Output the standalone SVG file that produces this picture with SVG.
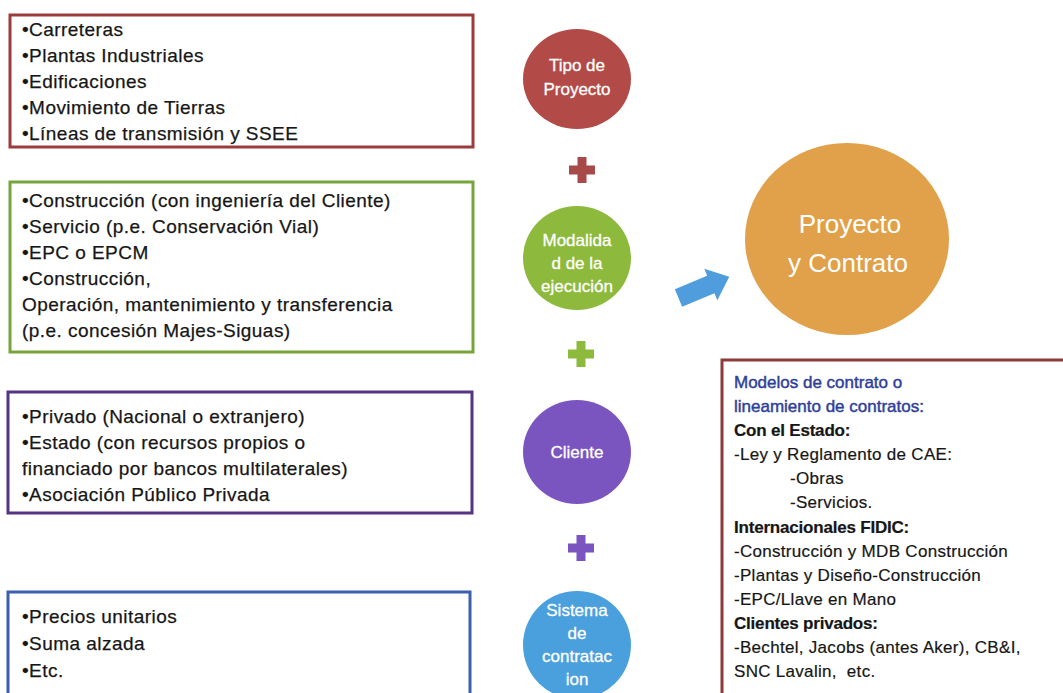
<svg xmlns="http://www.w3.org/2000/svg" width="1063" height="693" viewBox="0 0 1063 693">
  <style>
    .box { fill: #ffffff; stroke-width: 3; }
    .item { font-family: "Liberation Sans", Arial, sans-serif; font-size: 19px; letter-spacing: 0.45px; fill: #161616; stroke: #161616; stroke-width: 0.25; }
    .ctext { font-family: "Liberation Sans", Arial, sans-serif; font-size: 17px; fill: #ffffff; stroke: #ffffff; stroke-width: 0.3; text-anchor: middle; }
    .big { font-family: "Liberation Sans", Arial, sans-serif; font-size: 26px; fill: #ffffff; text-anchor: middle; }
    .model { font-family: "Liberation Sans", Arial, sans-serif; font-size: 17px; letter-spacing: 0.3px; fill: #161616; stroke: #161616; stroke-width: 0.2; }
    .head { fill: #2f3f9a; stroke: #2f3f9a; stroke-width: 0.45; letter-spacing: 0; }
    .bold { font-weight: bold; letter-spacing: -0.2px; }
  </style>
  <defs>
    <path id="plus" d="M-4.5,-13 H4.5 V-4.5 H13 V4.5 H4.5 V13 H-4.5 V4.5 H-13 V-4.5 H-4.5 Z"/>
  </defs>
  <rect width="1063" height="693" fill="#ffffff"/>

  <!-- left list boxes -->
  <g id="box-tipo">
    <rect class="box" x="10" y="15" width="463" height="132" stroke="#9c3b3b"/>
    <text class="item">
      <tspan x="22" y="36">•Carreteras</tspan>
      <tspan x="22" y="62">•Plantas Industriales</tspan>
      <tspan x="22" y="88">•Edificaciones</tspan>
      <tspan x="22" y="114">•Movimiento de Tierras</tspan>
      <tspan x="22" y="140">•Líneas de transmisión y SSEE</tspan>
    </text>
  </g>
  <g id="box-modalidad">
    <rect class="box" x="10" y="182" width="463" height="170" stroke="#78a53b"/>
    <text class="item">
      <tspan x="22" y="207">•Construcción (con ingeniería del Cliente)</tspan>
      <tspan x="22" y="233">•Servicio (p.e. Conservación Vial)</tspan>
      <tspan x="22" y="259">•EPC o EPCM</tspan>
      <tspan x="22" y="285">•Construcción,</tspan>
      <tspan x="22" y="311">Operación, mantenimiento y transferencia</tspan>
      <tspan x="22" y="337">(p.e. concesión Majes-Siguas)</tspan>
    </text>
  </g>
  <g id="box-cliente">
    <rect class="box" x="8" y="392" width="464" height="121" stroke="#553385"/>
    <text class="item">
      <tspan x="22" y="423">•Privado (Nacional o extranjero)</tspan>
      <tspan x="22" y="449">•Estado (con recursos propios o</tspan>
      <tspan x="22" y="475">financiado por bancos multilaterales)</tspan>
      <tspan x="22" y="501">•Asociación Público Privada</tspan>
    </text>
  </g>
  <g id="box-sistema">
    <rect class="box" x="8" y="592" width="462" height="120" stroke="#3d5fae"/>
    <text class="item">
      <tspan x="22" y="623">•Precios unitarios</tspan>
      <tspan x="22" y="650">•Suma alzada</tspan>
      <tspan x="22" y="677">•Etc.</tspan>
    </text>
  </g>

  <!-- central circles -->
  <g id="tipo">
    <ellipse cx="577" cy="79" rx="54" ry="50" fill="#b24b47"/>
    <text class="ctext"><tspan x="577" y="71">Tipo de</tspan><tspan x="577" y="95">Proyecto</tspan></text>
  </g>
  <g id="modalidad">
    <ellipse cx="577" cy="258" rx="54" ry="52" fill="#8dba3c"/>
    <text class="ctext"><tspan x="577" y="246">Modalida</tspan><tspan x="577" y="269">d de la</tspan><tspan x="577" y="292">ejecución</tspan></text>
  </g>
  <g id="cliente">
    <ellipse cx="577" cy="452" rx="54" ry="52" fill="#7b55bf"/>
    <text class="ctext" x="577" y="458">Cliente</text>
  </g>
  <g id="sistema">
    <ellipse cx="577" cy="645" rx="54" ry="54" fill="#4aa0dc"/>
    <text class="ctext"><tspan x="577" y="616">Sistema</tspan><tspan x="577" y="639">de</tspan><tspan x="577" y="662">contratac</tspan><tspan x="577" y="685">ion</tspan></text>
  </g>

  <!-- plus signs between the circles -->
  <g id="plus-signs">
    <use href="#plus" x="582" y="170" fill="#a8494a"/>
    <use href="#plus" x="581" y="354" fill="#8dba3c"/>
    <use href="#plus" x="581" y="548" fill="#7b55bf"/>
  </g>

  <!-- connectors -->
  <g id="connectors">
    <polygon transform="translate(678.5,298) rotate(-22.6)" points="0,-9.5 35,-9.5 35,-17 55,0 35,17 35,9.5 0,9.5" fill="#4f9ddc"/>
  </g>

  <g id="proyecto-contrato">
    <ellipse cx="847" cy="239" rx="102" ry="96" fill="#e0a14a"/>
    <text class="big"><tspan x="850" y="233">Proyecto</tspan><tspan x="848" y="272">y Contrato</tspan></text>
  </g>

  <g id="modelos">
    <rect class="box" x="722" y="360" width="360" height="360" stroke="#8c3a3a"/>
    <text class="model" xml:space="preserve">
      <tspan x="734" y="388" class="head">Modelos de contrato o</tspan>
      <tspan x="734" y="412" class="head">lineamiento de contratos:</tspan>
      <tspan x="734" y="436" class="bold">Con el Estado:</tspan>
      <tspan x="734" y="460">-Ley y Reglamento de CAE:</tspan>
      <tspan x="790" y="484">-Obras</tspan>
      <tspan x="790" y="508">-Servicios.</tspan>
      <tspan x="734" y="533" class="bold">Internacionales FIDIC:</tspan>
      <tspan x="734" y="557">-Construcción y MDB Construcción</tspan>
      <tspan x="734" y="581">-Plantas y Diseño-Construcción</tspan>
      <tspan x="734" y="605">-EPC/Llave en Mano</tspan>
      <tspan x="734" y="629" class="bold">Clientes privados:</tspan>
      <tspan x="734" y="653">-Bechtel, Jacobs (antes Aker), CB&amp;I,</tspan>
      <tspan x="734" y="677">SNC Lavalin,  etc.</tspan>
    </text>
  </g>
</svg>
